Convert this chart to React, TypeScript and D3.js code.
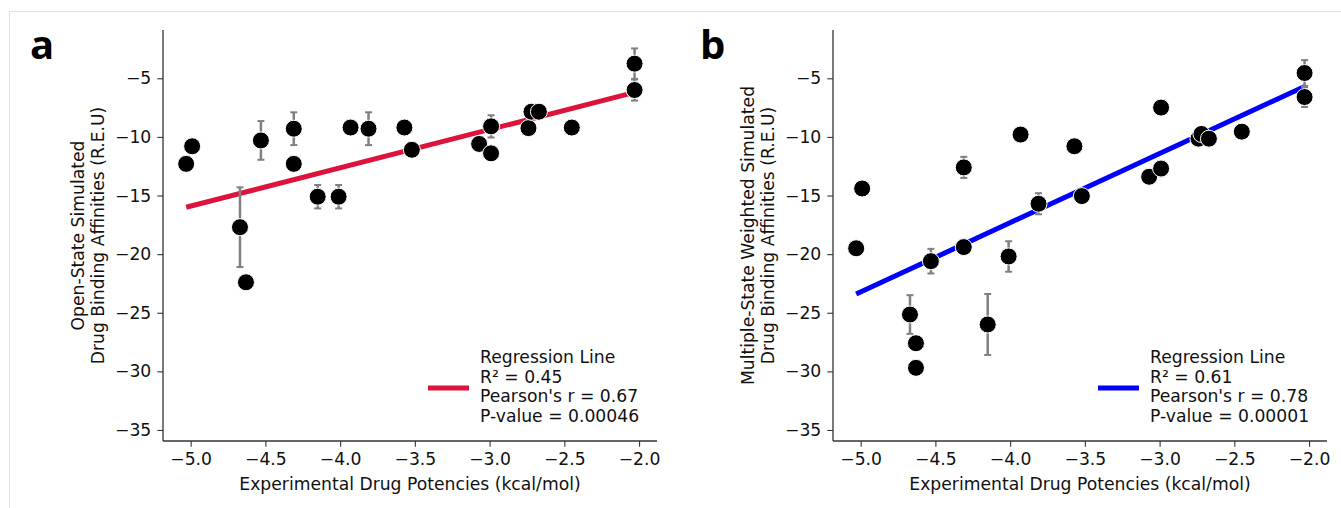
import React, {useEffect, useRef} from 'react'
import * as d3 from 'd3'

const width = 1341
const height = 508
const font = 'DejaVu Sans, sans-serif'
const fs = '17.2px'

// shared x positions (experimental potencies, kcal/mol)
const potencyA = [-5.03, -4.99, -4.67, -4.63, -4.53, -4.31, -4.31, -4.15, -4.01, -3.93, -3.81, -3.57, -3.52, -3.07, -2.99, -2.99, -2.74, -2.72, -2.67, -2.45, -2.03, -2.03]
const affinityA = [-12.3, -10.8, -17.7, -22.4, -10.3, -9.3, -12.3, -15.1, -15.1, -9.2, -9.3, -9.2, -11.1, -10.6, -9.1, -11.4, -9.25, -7.85, -7.85, -9.2, -3.75, -6.0]
const errA = [0, 0, 3.4, 0, 1.65, 1.4, 0, 1.0, 1.0, 0, 1.4, 0, 0, 0, 0.95, 0, 0, 0, 0, 0, 1.3, 0.9]

const potencyB = [-5.03, -4.99, -4.67, -4.63, -4.63, -4.53, -4.31, -4.31, -4.15, -4.01, -3.93, -3.81, -3.57, -3.52, -3.07, -2.99, -2.99, -2.74, -2.72, -2.67, -2.45, -2.03, -2.03]
const affinityB = [-19.5, -14.4, -25.15, -27.6, -29.7, -20.6, -12.6, -19.4, -26.0, -20.2, -9.8, -15.7, -10.8, -15.05, -13.4, -12.7, -7.5, -10.15, -9.75, -10.15, -9.55, -4.55, -6.6]
const errB = [0, 0, 1.65, 0, 0, 1.05, 0.9, 0, 2.6, 1.3, 0, 0.9, 0, 0, 0, 0.65, 0, 0, 0, 0, 0, 1.1, 0.85]

// regression lines (endpoints)
const regXA = [-5.03, -2.03]
const regYA = [-16.0, -6.2]
const regXB = [-5.03, -2.03]
const regYB = [-23.4, -5.7]

const xTicks = [-5.0, -4.5, -4.0, -3.5, -3.0, -2.5, -2.0]
const yTicks = [-5, -10, -15, -20, -25, -30, -35]

const legendA = ['Regression Line', 'R² = 0.45', "Pearson's r = 0.67", 'P-value = 0.00046']
const legendB = ['Regression Line', 'R² = 0.61', "Pearson's r = 0.78", 'P-value = 0.00001']

const panels = [
  {letter: 'a', xs: potencyA, ys: affinityA, err: errA, regX: regXA, regY: regYA, color: '#dc143c', yLabel: ['Open-State Simulated', 'Drug Binding Affinities (R.E.U)'], legend: legendA},
  {letter: 'b', xs: potencyB, ys: affinityB, err: errB, regX: regXB, regY: regYB, color: '#0000ff', yLabel: ['Multiple-State Weighted Simulated', 'Drug Binding Affinities (R.E.U)'], legend: legendB},
]

const App = () => {
  const ref = useRef<SVGSVGElement>(null)

  useEffect(() => {
    const svg = d3.select(ref.current)
    svg.selectAll('*').remove()

    svg.append('rect')
      .attr('x', 9.5).attr('y', 11.5)
      .attr('width', width).attr('height', height)
      .attr('fill', 'none').attr('stroke', '#e2e2e2')

    panels.forEach((p, i) => {
      const off = i * 670
      const left = 163 + off
      const right = 657 + off
      const top = 30
      const bottom = 441

      const x = d3.scaleLinear().domain([-5.185, -1.88]).range([left, right])
      const y = d3.scaleLinear().domain([-35.94, -0.88]).range([bottom, top])

      const g = svg.append('g')

      // panel letter
      g.append('text')
        .attr('x', 30 + off).attr('y', 59)
        .style('font-family', 'Open Sans, sans-serif')
        .style('font-weight', 700)
        .style('font-size', '40px')
        .text(p.letter)

      // axes
      const xAxis = g.append('g')
        .attr('transform', `translate(0,${bottom})`)
        .call(d3.axisBottom(x).tickValues(xTicks).tickFormat(d3.format('.1f')).tickSize(5.7).tickPadding(6))
      const yAxis = g.append('g')
        .attr('transform', `translate(${left},0)`)
        .call(d3.axisLeft(y).tickValues(yTicks).tickFormat(d3.format('d')).tickSize(5.7).tickPadding(6))
      ;[xAxis, yAxis].forEach(a => {
        a.select('.domain').attr('stroke', '#333').attr('stroke-width', 1.3)
        a.selectAll('.tick line').attr('stroke', '#333').attr('stroke-width', 1.1)
        a.selectAll('.tick text')
          .attr('fill', '#111')
          .style('font-family', font)
          .style('font-size', fs)
      })
      // keep spines only to plot area
      xAxis.select('.domain').attr('d', `M${left},0H${right}`)
      yAxis.select('.domain').attr('d', `M0,${top}V${bottom}`)

      // axis labels
      g.append('text')
        .attr('x', (left + right) / 2).attr('y', 490)
        .attr('text-anchor', 'middle')
        .style('font-family', font).style('font-size', fs)
        .attr('fill', '#111')
        .text('Experimental Drug Potencies (kcal/mol)')

      p.yLabel.forEach((t, j) => {
        const cx = 84 + off + j * 19.7
        g.append('text')
          .attr('transform', `translate(${cx},${(top + bottom) / 2}) rotate(-90)`)
          .attr('text-anchor', 'middle')
          .style('font-family', font).style('font-size', fs)
          .attr('fill', '#111')
          .text(t)
      })

      // regression line
      const line = d3.line<number>().x((_, k) => x(p.regX[k])).y(d => y(d))
      g.append('path')
        .attr('d', line(p.regY))
        .attr('fill', 'none')
        .attr('stroke', p.color)
        .attr('stroke-width', 5)

      // error bars
      const eb = g.append('g').attr('stroke', '#808080').attr('stroke-width', 2.5)
      p.xs.forEach((xv, k) => {
        const e = p.err[k]
        if (!e) return
        const cx = x(xv)
        const y0 = y(p.ys[k] + e)
        const y1 = y(p.ys[k] - e)
        eb.append('line').attr('x1', cx).attr('x2', cx).attr('y1', y0).attr('y2', y1)
        eb.append('line').attr('x1', cx - 3.5).attr('x2', cx + 3.5).attr('y1', y0).attr('y2', y0).attr('stroke-width', 2)
        eb.append('line').attr('x1', cx - 3.5).attr('x2', cx + 3.5).attr('y1', y1).attr('y2', y1).attr('stroke-width', 2)
      })

      // points
      g.append('g').selectAll('circle')
        .data(p.xs)
        .enter()
        .append('circle')
        .attr('cx', d => x(d))
        .attr('cy', (_, k) => y(p.ys[k]))
        .attr('r', 8.5)
        .attr('fill', '#000')
        .attr('stroke', '#fff')
        .attr('stroke-width', 1)

      // legend
      const lg = g.append('g')
      lg.append('line')
        .attr('x1', 428 + off).attr('x2', 469 + off)
        .attr('y1', 388).attr('y2', 388)
        .attr('stroke', p.color).attr('stroke-width', 5)
      p.legend.forEach((t, j) => {
        lg.append('text')
          .attr('x', 480 + off).attr('y', 363 + j * 19.7)
          .style('font-family', font).style('font-size', fs)
          .attr('fill', '#111')
          .text(t)
      })
    })
  }, [])

  return (
    <svg
      ref={ref}
      width={width}
      height={height}
      style={{position: 'absolute', left: 0, top: 0, background: '#fff'}}
    />
  )
}

export default App
